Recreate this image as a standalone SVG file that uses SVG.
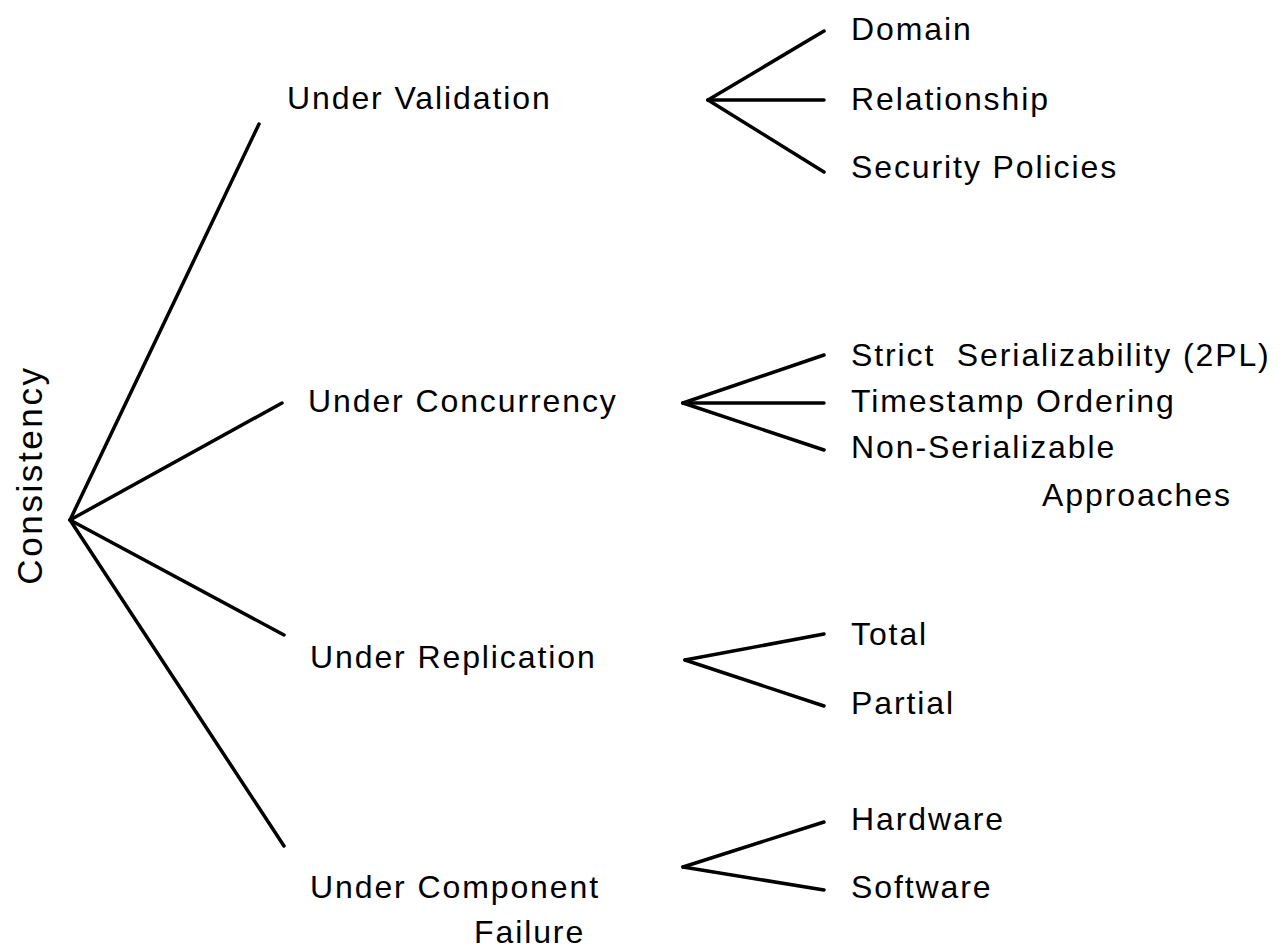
<svg xmlns="http://www.w3.org/2000/svg" width="1288" height="950" viewBox="0 0 1288 950">
<style>
text{font-family:"Liberation Sans",Arial,sans-serif;font-size:32px;fill:#000;letter-spacing:1.9px;white-space:pre}
.c line{stroke:#000;stroke-width:3.5;stroke-linecap:round}
</style>
<rect width="1288" height="950" fill="#fff"/>
<g class="c" id="connectors">
<line x1="70" y1="520" x2="259" y2="124"/>
<line x1="70" y1="520" x2="282" y2="403"/>
<line x1="70" y1="520" x2="284" y2="635"/>
<line x1="70" y1="520" x2="284" y2="846"/>
<line x1="708" y1="100" x2="824" y2="31"/>
<line x1="708" y1="100" x2="824" y2="100"/>
<line x1="708" y1="100" x2="824" y2="172"/>
<line x1="683" y1="403" x2="824" y2="355"/>
<line x1="683" y1="403" x2="824" y2="403"/>
<line x1="683" y1="403" x2="824" y2="450"/>
<line x1="685" y1="660" x2="824" y2="634"/>
<line x1="685" y1="660" x2="824" y2="706"/>
<line x1="683" y1="867" x2="824" y2="822"/>
<line x1="683" y1="867" x2="824" y2="890"/>
</g>
<g id="consistency"><text transform="translate(42,475) rotate(-90)" text-anchor="middle" style="font-size:35px;letter-spacing:2.6px">Consistency</text></g>
<g id="validation"><text x="287" y="109">Under Validation</text></g>
<g id="domain"><text x="851" y="40">Domain</text></g>
<g id="relationship"><text x="851" y="110">Relationship</text></g>
<g id="security"><text x="851" y="178">Security Policies</text></g>
<g id="concurrency"><text x="308" y="412">Under Concurrency</text></g>
<g id="strict"><text x="851" y="366">Strict  Serializability (2PL)</text></g>
<g id="timestamp"><text x="851" y="412">Timestamp Ordering</text></g>
<g id="nonser"><text x="851" y="458">Non-Serializable</text><text x="1042" y="506">Approaches</text></g>
<g id="replication"><text x="310" y="668">Under Replication</text></g>
<g id="total"><text x="851" y="645">Total</text></g>
<g id="partial"><text x="851" y="714">Partial</text></g>
<g id="failure"><text x="310" y="898">Under Component</text><text x="474" y="943">Failure</text></g>
<g id="hardware"><text x="851" y="830">Hardware</text></g>
<g id="software"><text x="851" y="898">Software</text></g>
</svg>
